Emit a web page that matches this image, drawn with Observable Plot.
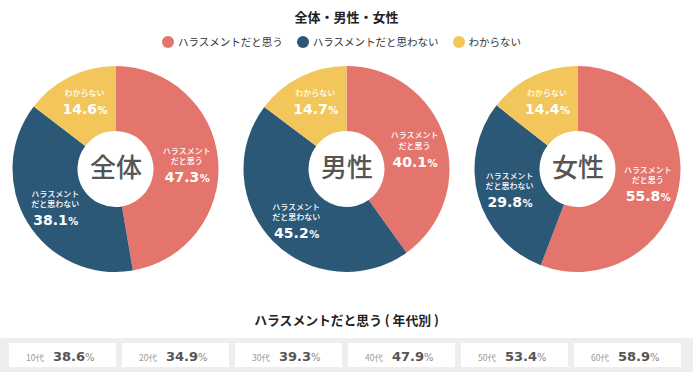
<!DOCTYPE html>
<html><head><meta charset="utf-8">
<script src="https://cdn.jsdelivr.net/npm/d3@7"></script>
<script src="https://cdn.jsdelivr.net/npm/@observablehq/plot@0.6"></script>
<style>
html,body{margin:0;padding:0;background:#fff;}
#chart{position:relative;width:693px;height:378px;overflow:hidden;font-family:"Noto Sans CJK JP","Noto Sans",sans-serif;}
.abs{position:absolute;left:0;width:693px;}
#title{top:8px;text-align:center;font-weight:700;font-size:13px;line-height:18px;color:#222;}
#legend{top:35px;display:flex;justify-content:center;align-items:center;font-size:10.5px;line-height:14px;color:#333;padding-right:10px;box-sizing:border-box;}
.item{display:flex;align-items:center;margin:0 7px;}
.dot{width:12px;height:12px;border-radius:50%;margin-right:4px;}
#pies{top:58px;}
#ageTitle{top:311px;text-align:center;font-weight:700;font-size:12.8px;line-height:18px;color:#222;}
#ages{top:338px;}
</style></head><body>
<div id="chart">
  <div id="title" class="abs"></div>
  <div id="legend" class="abs"></div>
  <div id="pies" class="abs"></div>
  <div id="ageTitle" class="abs"></div>
  <div id="ages" class="abs"></div>
</div>
<script>
// ---- data ----
const chartTitle = "全体・男性・女性";
const ageTitle = "ハラスメントだと思う ( 年代別 )";
const groups = ["全体", "男性", "女性"];
const answers = ["ハラスメントだと思う", "ハラスメントだと思わない", "わからない"];
const answerLabels = ["ハラスメント\nだと思う", "ハラスメント\nだと思わない", "わからない"];
const valuesAll = [47.3, 38.1, 14.6];
const valuesMale = [40.1, 45.2, 14.7];
const valuesFemale = [55.8, 29.8, 14.4];
const ages = ["10代", "20代", "30代", "40代", "50代", "60代"];
const ageValues = [38.6, 34.9, 39.3, 47.9, 53.4, 58.9];

// ---- styles ----
const palette = ["#e4756d", "#2c5877", "#f2c65b"];
const FONT = "'Noto Sans CJK JP', 'Noto Sans', sans-serif";
const NUMFONT = "'DejaVu Sans', sans-serif";
const UNIT = 231;               // px per group cell
const OUTER = 103 / UNIT, INNER = 38 / UNIT, LABEL_R = 71 / UNIT;
const k = 1 / UNIT;

document.getElementById("title").textContent = chartTitle;
document.getElementById("ageTitle").textContent = ageTitle;

// legend
const legend = document.getElementById("legend");
answers.forEach((a, i) => {
  const item = document.createElement("div"); item.className = "item";
  const dot = document.createElement("span"); dot.className = "dot"; dot.style.background = palette[i];
  const t = document.createElement("span"); t.textContent = a;
  item.append(dot, t); legend.append(item);
});

// pie rows
const groupValues = [valuesAll, valuesMale, valuesFemale];
const pie = d3.pie().sort(null).value(v => v);
const sliceRows = [];
groupValues.forEach((vals, gi) => {
  pie(vals).forEach((p, ai) => {
    const mid = (p.startAngle + p.endAngle) / 2;
    const lx = gi + 0.5 + LABEL_R * Math.sin(mid);
    const ly = LABEL_R * Math.cos(mid);
    const n = answerLabels[ai].split("\n").length;
    const pctBase = n === 1 ? 8 : 19;       // px below anchor
    sliceRows.push({
      group: groups[gi], gi, answer: answers[ai], ai, value: vals[ai],
      a0: p.startAngle, a1: p.endAngle,
      lx, nameY: ly - (pctBase - 18) * k, pctY: ly - pctBase * k,
      label: answerLabels[ai]
    });
  });
});
const centerRows = groups.map((g, i) => ({g, cx: i + 0.5, cy: 0}));

function pieSlices(index, scales) {
  const {x, y} = scales;
  const px = x(1) - x(0);
  const arc = d3.arc().innerRadius(INNER * px).outerRadius(OUTER * px);
  const g = d3.create("svg:g");
  g.selectAll("path").data(sliceRows).join("path")
    .attr("transform", d => `translate(${x(d.gi + 0.5)},${y(0)})`)
    .attr("d", d => arc({startAngle: d.a0, endAngle: d.a1}))
    .attr("fill", d => palette[d.ai]);
  return g.node();
}

const piePlot = Plot.plot({
  width: 693, height: 222, margin: 0,
  style: {fontFamily: FONT, background: "transparent"},
  x: {domain: [0, 3], range: [0, 693], axis: null},
  y: {domain: [-111 / UNIT, 111 / UNIT], axis: null},
  marks: [
    pieSlices,
    Plot.text(centerRows, {x: "cx", y: "cy", text: "g", fontSize: 26, fontWeight: 500, fill: "#555", dy: -1}),
    Plot.text(sliceRows, {x: "lx", y: "nameY", text: "label", lineAnchor: "bottom", lineHeight: 1.3, fontSize: 8, fontWeight: 500, fill: "white"}),
    Plot.text(sliceRows, {x: "lx", y: "pctY", text: d => d.value.toFixed(1), lineAnchor: "bottom", textAnchor: "end", dx: 12.5, fontSize: 14, fontWeight: "bold", fontFamily: NUMFONT, fill: "white"}),
    Plot.text(sliceRows, {x: "lx", y: "pctY", text: () => "%", lineAnchor: "bottom", textAnchor: "start", dx: 13, fontSize: 10, fontWeight: "bold", fontFamily: NUMFONT, fill: "white"})
  ]
});
document.getElementById("pies").append(piePlot);

// age boxes
const ageRows = ages.map((a, i) => ({age: a, value: ageValues[i]}));
const agePlot = Plot.plot({
  width: 693, height: 34, marginTop: 5, marginBottom: 5, marginLeft: 0, marginRight: 0,
  style: {fontFamily: FONT, background: "#eeeeee"},
  x: {type: "band", domain: ages, range: [7, 683], paddingInner: 0.05, paddingOuter: 0, axis: null},
  marks: [
    Plot.cell(ageRows, {x: "age", fill: "white"}),
    Plot.text(ageRows, {x: "age", text: "age", textAnchor: "end", dx: -19, dy: 5, lineAnchor: "bottom", fontSize: 8.5, fill: "#999"}),
    Plot.text(ageRows, {x: "age", text: d => d.value.toFixed(1), textAnchor: "start", dx: -10, dy: 5, lineAnchor: "bottom", fontSize: 13, fontWeight: "bold", fontFamily: NUMFONT, fill: "#555"}),
    Plot.text(ageRows, {x: "age", text: () => "%", textAnchor: "start", dx: 22, dy: 5, lineAnchor: "bottom", fontSize: 10, fontFamily: NUMFONT, fill: "#888"})
  ]
});
document.getElementById("ages").append(agePlot);
</script>
</body></html>
